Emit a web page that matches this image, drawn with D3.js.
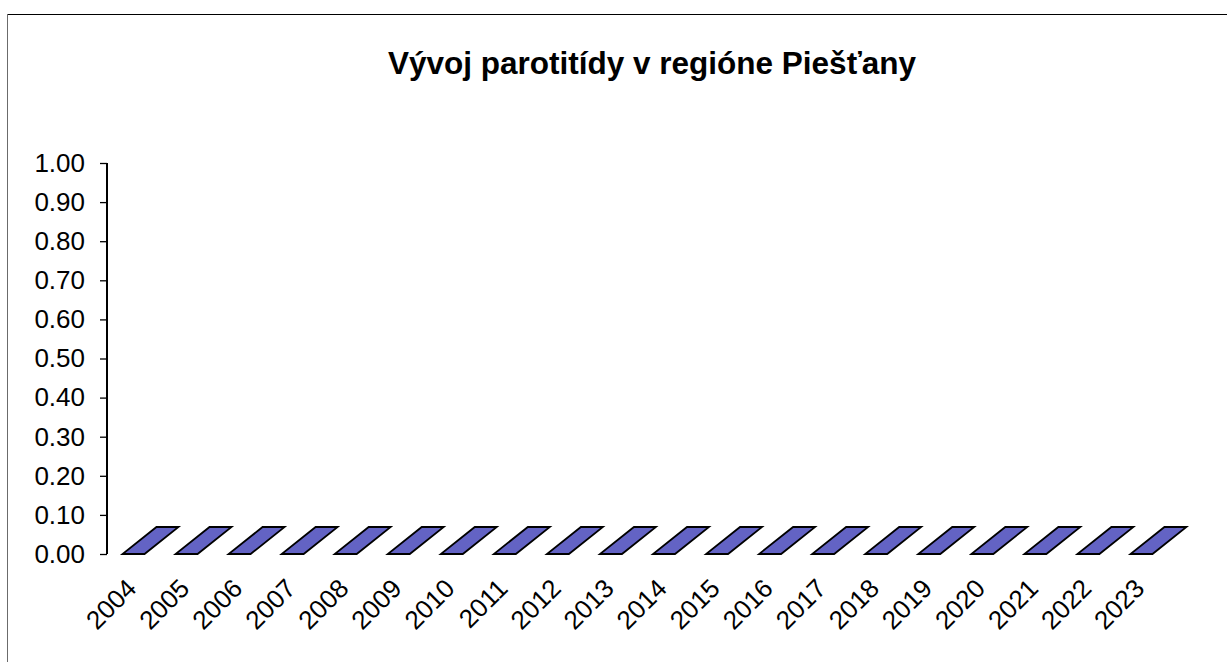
<!DOCTYPE html>
<html>
<head>
<meta charset="utf-8">
<script src="https://cdn.jsdelivr.net/npm/d3@7"></script>
<style>
  html, body { margin: 0; padding: 0; background: #fff; }
  svg { display: block; }
  text { font-family: "Liberation Sans", Arial, sans-serif; fill: #000; }
</style>
</head>
<body>
<svg id="chart" width="1227" height="662"></svg>
<script>
// Cases of mumps (parotitis) per year, Piešťany region
const years = ["2004","2005","2006","2007","2008","2009","2010","2011","2012","2013",
               "2014","2015","2016","2017","2018","2019","2020","2021","2022","2023"];
const cases = [0,0,0,0,0,0,0,0,0,0,0,0,0,0,0,0,0,0,0,0];
const yTicks = [0,0.1,0.2,0.3,0.4,0.5,0.6,0.7,0.8,0.9,1.0];
const title = "Vývoj parotitídy v regióne Piešťany";

const svg = d3.select("#chart");
const W = 1227, H = 662;

// chart frame (top and left edges visible in the window)
svg.append("line").attr("x1", 7).attr("x2", W).attr("y1", 14.5).attr("y2", 14.5)
  .attr("stroke", "#000").attr("stroke-width", 1);
svg.append("line").attr("x1", 7.5).attr("x2", 7.5).attr("y1", 14).attr("y2", H)
  .attr("stroke", "#6b6b6b").attr("stroke-width", 1);

// title
svg.append("text")
  .attr("x", 652).attr("y", 74)
  .attr("text-anchor", "middle")
  .style("font-weight", "bold").style("font-size", "31.5px")
  .text(title);

// scales
const axisX = 107;
const x = d3.scaleBand().domain(years).range([axisX, axisX + 20 * 53.05]).padding(0);
const y = d3.scaleLinear().domain([0, 1]).range([554, 163]);

// 3D column geometry
const barOffset = 15.5, barWidth = 22;
const depthX = 34, depthY = -27;

// y axis
const yAxis = d3.axisLeft(y).tickValues(yTicks).tickSize(7).tickPadding(15)
  .tickFormat(d3.format(".2f"));
const gy = svg.append("g").attr("transform", `translate(${axisX},0)`).call(yAxis);
gy.select(".domain").attr("stroke", "#000").attr("stroke-width", 2)
  .attr("d", `M0,${y(1)}V${y(0)}`);
gy.selectAll(".tick line").attr("stroke", "#000").attr("stroke-width", 1.3);
gy.selectAll(".tick text").style("font-size", "26px")
  .style("font-family", "'Liberation Sans', Arial, sans-serif");

// columns
const bars = svg.append("g");
years.forEach((yr, i) => {
  const v = cases[i];
  const x0 = x(yr) + barOffset, x1 = x0 + barWidth;
  const yt = y(v), yb = y(0);
  const g = bars.append("g");
  // front and side faces (only visible for non-zero values)
  if (yb > yt) {
    g.append("path")
      .attr("d", `M${x1},${yt}L${x1 + depthX},${yt + depthY}L${x1 + depthX},${yb + depthY}L${x1},${yb}Z`)
      .attr("fill", "#3d3d8f").attr("stroke", "#000").attr("stroke-width", 1.5);
    g.append("rect").attr("x", x0).attr("y", yt).attr("width", barWidth).attr("height", yb - yt)
      .attr("fill", "#6363c4").attr("stroke", "#000").attr("stroke-width", 1.5);
  }
  // top face
  g.append("path")
    .attr("d", `M${x0},${yt}L${x1},${yt}L${x1 + depthX},${yt + depthY}L${x0 + depthX},${yt + depthY}Z`)
    .attr("fill", "#6363c4").attr("stroke", "#000").attr("stroke-width", 1.8)
    .attr("stroke-linejoin", "miter");
});

// category labels, rotated
const labels = svg.append("g");
years.forEach(yr => {
  const ax = x(yr) + 31, ay = 590;
  labels.append("text")
    .attr("transform", `translate(${ax},${ay}) rotate(-45)`)
    .attr("text-anchor", "end")
    .style("font-size", "26px")
    .text(yr);
});
</script>
</body>
</html>
